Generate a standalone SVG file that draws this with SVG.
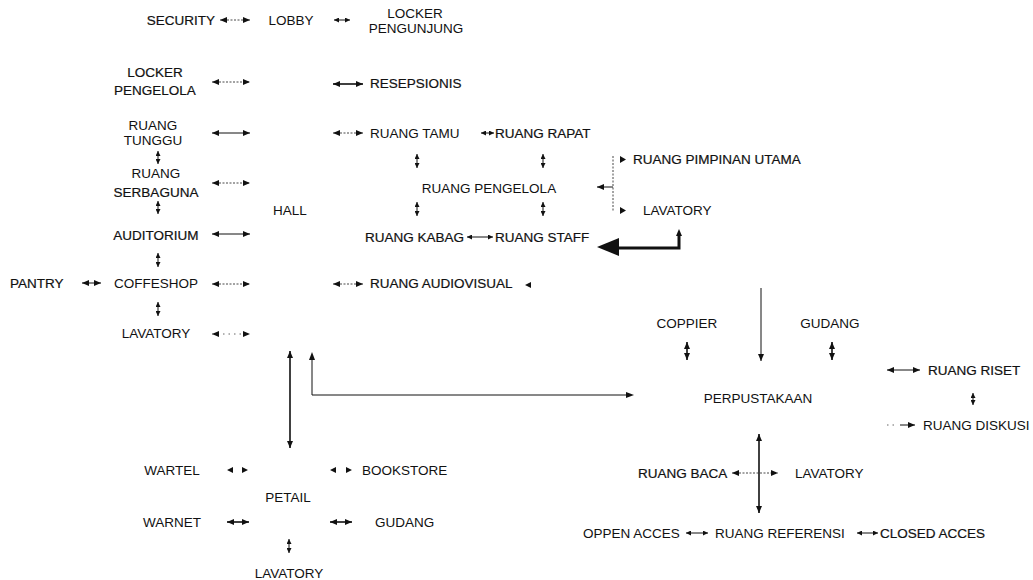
<svg xmlns="http://www.w3.org/2000/svg" width="1033" height="580" viewBox="0 0 1033 580">
<style>
text{font-family:"Liberation Sans",Arial,sans-serif;font-size:13.5px;fill:#111}
.m{text-anchor:middle}
.dk{stroke:#111;stroke-width:0.2}
.c{fill:none;stroke:#111;stroke-width:1}
.t{fill:none;stroke:#111;stroke-width:1.6}
.d{fill:none;stroke:#333;stroke-width:0.9;stroke-dasharray:2 1.5}
.w{fill:none;stroke:#555;stroke-width:0.9;stroke-dasharray:1.5 4}
.a{marker-start:url(#ah);marker-end:url(#ah)}
.e{marker-end:url(#ah)}
.s{marker-start:url(#sm);marker-end:url(#sm)}
</style>
<defs>
<marker id="ah" viewBox="0 0 7 6" refX="7" refY="3" markerWidth="7" markerHeight="6" markerUnits="userSpaceOnUse" orient="auto-start-reverse"><path d="M0,0 L7,3 L0,6 z" fill="#111"/></marker>
<marker id="sm" viewBox="0 0 5 5" refX="5" refY="2.5" markerWidth="5" markerHeight="5" markerUnits="userSpaceOnUse" orient="auto-start-reverse"><path d="M0,0 L5,2.5 L0,5 z" fill="#111"/></marker>
</defs>

<g id="connectors">
<line class="d a" x1="220" y1="20" x2="250" y2="20"/>
<line class="c s" x1="334" y1="20" x2="350" y2="20"/>
<line class="d a" x1="212" y1="82" x2="250" y2="82"/>
<line class="c a" x1="212" y1="133" x2="250" y2="133"/>
<line class="d a" x1="212" y1="183" x2="250" y2="183"/>
<line class="c a" x1="212" y1="234" x2="250" y2="234"/>
<line class="d a" x1="212" y1="284" x2="250" y2="284"/>
<line class="w a" x1="212" y1="334" x2="250" y2="334"/>
<line class="c a" x1="82" y1="283" x2="101" y2="283"/>
<line class="c s" x1="158" y1="151" x2="158" y2="164"/>
<line class="c s" x1="158" y1="201" x2="158" y2="214"/>
<line class="c s" x1="158" y1="253" x2="158" y2="267"/>
<line class="c s" x1="158" y1="302" x2="158" y2="316"/>
<line class="t a" x1="333" y1="84" x2="363" y2="84"/>
<line class="d a" x1="333" y1="133" x2="363" y2="133"/>
<line class="d a" x1="333" y1="284" x2="363" y2="284"/>
<line class="c s" x1="481" y1="133" x2="494" y2="133"/>
<line class="c s" x1="467" y1="237" x2="493" y2="237"/>
<line class="c s" x1="417" y1="154" x2="417" y2="168"/>
<line class="c s" x1="543" y1="154" x2="543" y2="168"/>
<line class="c s" x1="417" y1="202" x2="417" y2="216"/>
<line class="c s" x1="543" y1="202" x2="543" y2="216"/>
<line class="d" x1="613" y1="156" x2="613" y2="212"/>
<line class="c e" x1="613" y1="187" x2="597" y2="187"/>
<path d="M620,156 L626,159.5 L620,163 z" fill="#111"/>
<path d="M620,207 L626,210.5 L620,214 z" fill="#111"/>
<polyline points="679,236 679,248 616,248" fill="none" stroke="#111" stroke-width="3"/>
<path d="M679,229 L682,236 L676,236 z" fill="#111"/>
<path d="M597,247 L619,238 L619,256 z" fill="#111"/>
<path d="M525,285 L531,282 L531,288 z" fill="#111"/>
<line class="t a" x1="290" y1="351" x2="290" y2="448"/>
<polyline class="c" points="312,359 312,395 628,395"/>
<path d="M312,352 L315,360 L309,360 z" fill="#111"/>
<path d="M634,395 L626,392 L626,398 z" fill="#111"/>
<line class="c e" x1="761" y1="288" x2="761" y2="361"/>
<line class="t a" x1="687" y1="342" x2="687" y2="360"/>
<line class="t a" x1="832" y1="342" x2="832" y2="360"/>
<line class="c a" x1="887" y1="370" x2="920" y2="370"/>
<line class="c s" x1="973" y1="393" x2="973" y2="405"/>
<line class="w" x1="887" y1="425" x2="896" y2="425"/>
<line class="c e" x1="900" y1="425" x2="915" y2="425"/>
<line class="t a" x1="759" y1="434" x2="759" y2="513"/>
<line class="d a" x1="732" y1="473" x2="778" y2="473"/>
<line class="c s" x1="686" y1="533" x2="708" y2="533"/>
<line class="c s" x1="857" y1="533" x2="878" y2="533"/>
<path d="M227,470 L233,467 L233,473 z M248,470 L242,467 L242,473 z" fill="#111"/>
<path d="M330,470 L336,467 L336,473 z M352,470 L346,467 L346,473 z" fill="#111"/>
<line class="t a" x1="227" y1="522" x2="249" y2="522"/>
<line class="t a" x1="330" y1="522" x2="352" y2="522"/>
<line class="c s" x1="289" y1="539" x2="289" y2="553"/>
</g>

<g id="n-security"><text class="m dk" x="181" y="25">SECURITY</text></g>
<g id="n-lobby"><text class="m" x="291" y="25">LOBBY</text></g>
<g id="n-locker-pengunjung"><text class="m" x="415" y="18">LOCKER</text><text class="m" x="416" y="33">PENGUNJUNG</text></g>
<g id="n-locker-pengelola"><text class="m dk" x="155" y="77">LOCKER</text><text class="m dk" x="155" y="95">PENGELOLA</text></g>
<g id="n-resepsionis"><text class="dk" x="370" y="88">RESEPSIONIS</text></g>
<g id="n-ruang-tunggu"><text class="m" x="153" y="130">RUANG</text><text class="m" x="153" y="145">TUNGGU</text></g>
<g id="n-ruang-serbaguna"><text class="m" x="156" y="178">RUANG</text><text class="m dk" x="156" y="197">SERBAGUNA</text></g>
<g id="n-hall"><text class="m" x="290" y="215">HALL</text></g>
<g id="n-auditorium"><text class="m dk" x="156" y="240">AUDITORIUM</text></g>
<g id="n-pantry"><text x="10" y="288" class="dk">PANTRY</text></g>
<g id="n-coffeshop"><text class="m" x="156" y="288">COFFESHOP</text></g>
<g id="n-lavatory-1"><text class="m" x="156" y="338">LAVATORY</text></g>
<g id="n-ruang-tamu"><text x="370" y="138">RUANG TAMU</text></g>
<g id="n-ruang-rapat"><text class="dk" x="495" y="138">RUANG RAPAT</text></g>
<g id="n-ruang-pengelola"><text class="m" x="489" y="193">RUANG PENGELOLA</text></g>
<g id="n-ruang-kabag"><text class="dk" x="365" y="242">RUANG KABAG</text></g>
<g id="n-ruang-staff"><text class="dk" x="495" y="242">RUANG STAFF</text></g>
<g id="n-ruang-pimpinan"><text class="dk" x="633" y="164">RUANG PIMPINAN UTAMA</text></g>
<g id="n-lavatory-2"><text x="643" y="215">LAVATORY</text></g>
<g id="n-ruang-audiovisual"><text class="dk" x="370" y="288">RUANG AUDIOVISUAL</text></g>
<g id="n-coppier"><text class="m" x="687" y="328">COPPIER</text></g>
<g id="n-gudang-1"><text class="m" x="830" y="328">GUDANG</text></g>
<g id="n-perpustakaan"><text class="m" x="758" y="403">PERPUSTAKAAN</text></g>
<g id="n-ruang-riset"><text class="dk" x="928" y="375">RUANG RISET</text></g>
<g id="n-ruang-diskusi"><text x="923" y="430">RUANG DISKUSI</text></g>
<g id="n-ruang-baca"><text class="dk" x="638" y="478">RUANG BACA</text></g>
<g id="n-lavatory-3"><text x="795" y="478">LAVATORY</text></g>
<g id="n-oppen-acces"><text x="583" y="538">OPPEN ACCES</text></g>
<g id="n-ruang-referensi"><text x="715" y="538">RUANG REFERENSI</text></g>
<g id="n-closed-acces"><text class="dk" x="880" y="538">CLOSED ACCES</text></g>
<g id="n-wartel"><text class="m" x="172" y="475">WARTEL</text></g>
<g id="n-bookstore"><text x="362" y="475">BOOKSTORE</text></g>
<g id="n-petail"><text class="m" x="288" y="502">PETAIL</text></g>
<g id="n-warnet"><text class="m" x="172" y="527">WARNET</text></g>
<g id="n-gudang-2"><text x="375" y="527">GUDANG</text></g>
<g id="n-lavatory-4"><text class="m" x="289" y="578">LAVATORY</text></g>
</svg>
